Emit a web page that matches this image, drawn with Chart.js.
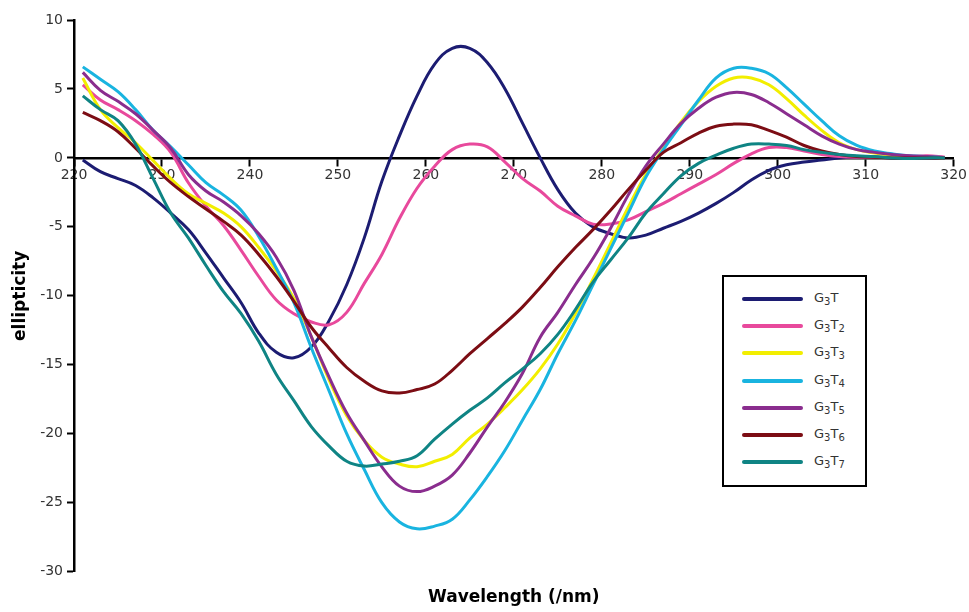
<!DOCTYPE html>
<html>
<head>
<meta charset="utf-8">
<script src="https://cdn.jsdelivr.net/npm/chart.js@4/dist/chart.umd.min.js"></script>
<style>
  html, body { margin: 0; padding: 0; background: #fff; }
  #wrap { position: relative; width: 969px; height: 612px; }
  #legend { position: absolute; left: 722px; top: 275px; width: 141px; height: 208px;
    border: 2px solid #000; background: #fff; font-family: "DejaVu Sans", Verdana, sans-serif; font-size: 13px; color: #333; }
  .row { position: absolute; left: 0; height: 20px; }
  .sw { position: absolute; left: 18px; top: 8px; width: 61px; height: 4px; border-radius: 2px; }
  .lb { position: absolute; left: 90px; top: 1px; white-space: nowrap; }
  .lb sub { font-size: 10px; vertical-align: -3px; line-height: 0; }
</style>
</head>
<body>
<div id="wrap">
  <canvas id="c" width="969" height="612"></canvas>
  <div id="legend"></div>
</div>
<script>
const wavelengths = [221,223,225,227,229,231,233,235,237,239,241,243,245,247,249,251,253,255,257,259,261,263,265,267,269,271,273,275,277,279,281,283,285,287,289,291,293,295,297,299,301,303,305,307,309,311,313,315,317,319];

const seriesNames = ['G3T','G3T2','G3T3','G3T4','G3T5','G3T6','G3T7'];
const seriesColors = ['#1c1c72','#e8499c','#f2ee00','#19b4e0','#8a2d8e','#7c0d14','#0f8484'];

const g3t  = [-0.15,-1.0,-1.5,-2.0,-2.9,-4.0,-5.2,-6.9,-8.7,-10.5,-12.7,-14.1,-14.5,-13.7,-11.8,-9.2,-5.8,-1.7,1.6,4.5,6.8,7.95,7.95,6.9,5.0,2.5,0.0,-2.3,-4.0,-5.0,-5.5,-5.8,-5.6,-5.1,-4.6,-4.0,-3.3,-2.5,-1.6,-0.9,-0.5,-0.3,-0.15,0,0.05,0.05,0,0,0,0];
const g3t2 = [5.3,4.2,3.5,2.7,1.7,0.4,-1.8,-3.5,-4.9,-6.7,-8.6,-10.3,-11.3,-11.9,-12.1,-11.2,-9.1,-7.0,-4.4,-2.2,-0.6,0.6,1.0,0.8,-0.3,-1.5,-2.4,-3.5,-4.2,-4.8,-4.8,-4.5,-3.9,-3.3,-2.6,-1.9,-1.2,-0.4,0.3,0.75,0.75,0.5,0.25,0.1,0.05,0.05,0.05,0.1,0.15,0.05];
const g3t3 = [5.8,3.5,2.2,1.1,-0.2,-1.5,-2.6,-3.3,-4.0,-5.0,-6.5,-8.2,-10.2,-13.0,-16.1,-18.7,-20.5,-21.7,-22.2,-22.4,-22.0,-21.5,-20.3,-19.3,-18.1,-16.8,-15.3,-13.5,-11.3,-8.8,-6.2,-3.6,-1.2,0.7,2.6,4.1,5.2,5.8,5.8,5.3,4.3,3.1,2.0,1.1,0.6,0.35,0.2,0.1,0.05,0];
const g3t4 = [6.6,5.7,4.8,3.5,2.0,0.8,-0.5,-1.8,-2.7,-3.8,-5.7,-8.0,-10.5,-13.8,-16.9,-20.0,-22.6,-25.0,-26.4,-26.9,-26.7,-26.2,-24.8,-23.1,-21.2,-19.0,-16.8,-14.2,-11.8,-9.2,-6.6,-4.0,-1.4,0.6,2.4,4.2,5.8,6.5,6.5,6.1,5.1,3.9,2.7,1.6,0.9,0.5,0.3,0.15,0.1,0];
const g3t5 = [6.2,4.9,4.1,3.2,2.0,0.7,-1.2,-2.4,-3.2,-4.2,-5.5,-7.2,-9.6,-13.0,-15.9,-18.5,-20.5,-22.4,-23.8,-24.2,-23.8,-23.0,-21.4,-19.5,-17.7,-15.6,-13.0,-11.2,-9.2,-7.3,-5.1,-2.7,-0.6,1.0,2.5,3.6,4.4,4.75,4.6,4.0,3.2,2.4,1.6,1.0,0.6,0.4,0.25,0.15,0.1,0];
const g3t6 = [3.3,2.7,1.9,0.7,-0.6,-1.8,-2.8,-3.7,-4.6,-5.6,-7.0,-8.6,-10.4,-12.3,-13.8,-15.2,-16.2,-16.9,-17.05,-16.8,-16.4,-15.4,-14.2,-13.1,-12.0,-10.8,-9.4,-7.9,-6.5,-5.2,-3.8,-2.3,-0.9,0.4,1.1,1.8,2.3,2.45,2.4,2.0,1.5,0.9,0.5,0.25,0.1,0.05,0,0,0,0];
const g3t7 = [4.5,3.5,2.7,1.0,-1.5,-4.0,-5.8,-7.8,-9.7,-11.3,-13.3,-15.7,-17.6,-19.5,-20.9,-22.0,-22.35,-22.2,-22.0,-21.6,-20.4,-19.3,-18.3,-17.4,-16.3,-15.3,-14.2,-12.8,-11.0,-9.0,-7.4,-5.8,-4.0,-2.6,-1.3,-0.4,0.2,0.7,1.0,1.0,0.9,0.6,0.4,0.25,0.15,0.1,0.0,-0.05,0,0];

const seriesValues = [g3t, g3t2, g3t3, g3t4, g3t5, g3t6, g3t7];
const xTicks = [220,230,240,250,260,270,280,290,300,310,320];
const yTicks = [-30,-25,-20,-15,-10,-5,0,5,10];

const toUnicode = s => s.replace(/(\d)/g, d => '₀₁₂₃₄₅₆₇₈₉'[+d]);
const toHtml = s => s.replace(/(\d)/g, '<sub>$1</sub>');

const datasets = seriesNames.map((name, i) => ({
  label: toUnicode(name),
  data: wavelengths.map((w, k) => ({x: w, y: seriesValues[i][k]})),
  borderColor: seriesColors[i],
  backgroundColor: seriesColors[i],
  borderWidth: 3,
  pointRadius: 0,
  fill: false,
  tension: 0.4,
  order: seriesNames.length - i
}));

const tickFont = {family: '"DejaVu Sans", Verdana, sans-serif', size: 14};

new Chart(document.getElementById('c'), {
  type: 'line',
  data: {datasets},
  options: {
    responsive: false,
    animation: false,
    devicePixelRatio: 1,
    layout: {padding: {left: 0, top: 20, right: 14, bottom: 0}},
    plugins: {
      legend: {display: false},
      tooltip: {enabled: false},
      title: {
        display: true,
        text: 'Wavelength (/nm)',
        position: 'bottom',
        fullSize: false,
        color: '#000',
        font: {family: '"DejaVu Sans", Verdana, sans-serif', size: 17, weight: 'bold'},
        padding: {top: 16, bottom: 4}
      }
    },
    scales: {
      x: {
        type: 'linear',
        min: 220, max: 320,
        position: {y: 0},
        afterFit: s => { s.height = 0; },
        afterBuildTicks: s => { s.ticks = xTicks.map(v => ({value: v})); },
        grid: {drawOnChartArea: false, drawTicks: true, tickLength: 7, tickColor: '#000', tickWidth: 2},
        border: {color: '#000', width: 2.5},
        ticks: {color: '#333', font: tickFont, padding: 2, autoSkip: false, maxRotation: 0}
      },
      y: {
        type: 'linear',
        min: -30, max: 10,
        afterFit: s => { s.width = 74; },
        afterBuildTicks: s => { s.ticks = yTicks.map(v => ({value: v})); },
        grid: {drawOnChartArea: false, drawTicks: true, tickLength: 7, tickColor: '#000', tickWidth: 2},
        border: {color: '#000', width: 2.5},
        ticks: {color: '#333', font: tickFont, padding: 4},
        title: {
          display: true,
          text: 'ellipticity',
          color: '#000',
          font: {family: '"DejaVu Sans", Verdana, sans-serif', size: 17, weight: 'bold'},
          padding: {top: 10, bottom: 4}
        }
      }
    }
  }
});

const legend = document.getElementById('legend');
seriesNames.forEach((name, i) => {
  const row = document.createElement('div');
  row.className = 'row';
  row.style.top = (12 + i * 27.2) + 'px';
  row.innerHTML = '<div class="sw" style="background:' + seriesColors[i] + '"></div><div class="lb">' + toHtml(name) + '</div>';
  legend.appendChild(row);
});
</script>
</body>
</html>
